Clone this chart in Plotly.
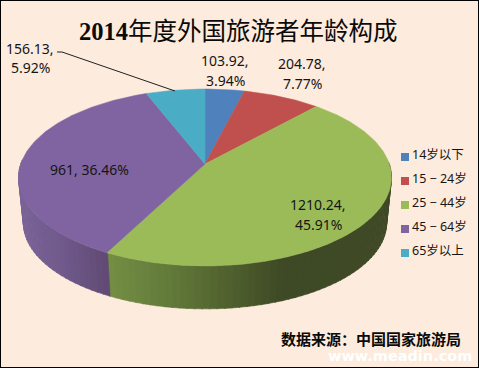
import math
import plotly.graph_objects as go

categories = ["14岁以下", "15 − 24岁", "25 − 44岁", "45 − 64岁", "65岁以上"]
values = [103.92, 204.78, 1210.24, 961, 156.13]
percent_labels = ["3.94%", "7.77%", "45.91%", "36.46%", "5.92%"]
top_colors = ["#4f81bd", "#c0504d", "#9bbb59", "#8064a2", "#4bacc6"]

BG = "#fdebdd"
CX, CY, A, B, K = 205.0, 164.0, 184.3, 86.4, 0.1525
CY2, A2, B2 = 210.0, 179.5, 83.8
total = sum(values)


def pt(theta, cy=CY, a=A, b=B):
    u, v = math.sin(theta), -math.cos(theta)
    d = 1 - K * v
    return CX + a * u / d, cy + b * v / d


def mix(stops, x):
    for (x0, c0), (x1, c1) in zip(stops, stops[1:]):
        if x <= x1:
            t = max(0, (x - x0) / (x1 - x0))
            return "rgb(%d,%d,%d)" % tuple(c0[i] + (c1[i] - c0[i]) * t for i in range(3))
    return "rgb(%d,%d,%d)" % stops[-1][1]


purple_side = [(18, (122, 100, 152)), (60, (112, 90, 140)), (107, (96, 74, 116))]
green_side = [(107, (116, 143, 68)), (170, (98, 122, 58)), (230, (80, 96, 46)),
              (285, (62, 73, 38)), (391, (64, 73, 38))]

fig = go.Figure()

# slice boundaries derived from the values
bounds = [0.0]
for val in values:
    bounds.append(bounds[-1] + val / total * 2 * math.pi)

# side wall: purple and green are the two slices facing the viewer
STEPS = 90
for i in range(STEPS):
    t0 = math.pi * 0.5 + (i / STEPS) * math.pi * 1.02 - 0.02
    t1 = math.pi * 0.5 + ((i + 1.15) / STEPS) * math.pi * 1.02 - 0.02
    x0, y0 = pt(t0)
    x1, y1 = pt(t1)
    x2, y2 = pt(t1, CY2, A2, B2)
    x3, y3 = pt(t0, CY2, A2, B2)
    tm = (t0 + t1) / 2
    xm = (x0 + x1) / 2
    col = mix(green_side, xm) if tm < bounds[3] else mix(purple_side, xm)
    fig.add_trace(go.Scatter(x=[x0, x1, x2, x3, x0], y=[y0, y1, y2, y3, y0], mode="lines",
                             fill="toself", fillcolor=col, line=dict(width=0.6, color=col),
                             hoverinfo="skip", showlegend=False))

# top faces
for i, name in enumerate(categories):
    n = max(4, int((bounds[i + 1] - bounds[i]) * 60))
    pts = [pt(bounds[i] + (bounds[i + 1] - bounds[i]) * j / n) for j in range(n + 1)]
    xs = [CX] + [p[0] for p in pts] + [CX]
    ys = [CY] + [p[1] for p in pts] + [CY]
    fig.add_trace(go.Scatter(x=xs, y=ys, mode="lines", fill="toself", fillcolor=top_colors[i],
                             line=dict(width=0.5, color=top_colors[i]), name=name, showlegend=False))

# legend built as markers and labels
legend_y = [154, 178, 202, 226, 250]
fig.add_trace(go.Scatter(x=[405] * 5, y=[y + 3 for y in legend_y], mode="markers",
                         marker=dict(symbol="square", size=8, color=top_colors),
                         hoverinfo="skip", showlegend=False))

# leader line of the 65+ label
fig.add_trace(go.Scatter(x=[57, 62, 175], y=[52, 52, 91], mode="lines",
                         line=dict(color="#202020", width=1), hoverinfo="skip", showlegend=False))

LABEL_FONT = "Noto Sans, Noto Sans CJK SC, sans-serif"


def text(x, y, s, size=14, color="#151515", family=LABEL_FONT, anchor="center"):
    fig.add_annotation(x=x, y=y, text=s, showarrow=False, xref="x", yref="y", xanchor=anchor,
                       yanchor="middle", font=dict(size=size, color=color, family=family))


def fmt(v):
    return f"{v:g}"


text(225, 60, fmt(values[0]) + ",")
text(225, 80, percent_labels[0])
text(302, 63, fmt(values[1]) + ",")
text(302, 83, percent_labels[1])
text(318, 204, fmt(values[2]) + ",")
text(318, 224, percent_labels[2])
text(89, 169, fmt(values[3]) + ", " + percent_labels[3])
text(30, 48, fmt(values[4]) + ",")
text(30, 67, percent_labels[4])

for y, name in zip(legend_y, categories):
    text(410, y, name, size=12.5, anchor="left")

text(238.5, 31, "<b>2014</b>年度外国旅游者年龄构成", size=24.5, color="#0a0a0a",
     family="Liberation Serif, Noto Sans CJK SC, serif")
text(370.5, 338, "<b>数据来源：中国国家旅游局</b>", size=15, color="#0a0a0a",
     family="Noto Sans CJK SC, sans-serif")
text(400, 356, "<b>www.meadin.com</b>", size=14.5, color="#ffffff", family="DejaVu Sans, sans-serif")

fig.update_layout(
    width=479, height=368, margin=dict(l=0, r=0, t=0, b=0),
    paper_bgcolor=BG, plot_bgcolor=BG, showlegend=False,
    xaxis=dict(range=[0, 479], visible=False, fixedrange=True),
    yaxis=dict(range=[368, 0], visible=False, fixedrange=True),
    shapes=[dict(type="rect", xref="paper", yref="paper", x0=0, y0=0, x1=1, y1=1,
                 line=dict(color="#000000", width=2), layer="above")],
)
fig.write_html("out.html", config={"displayModeBar": False},
               post_script="document.body.style.margin='0';document.documentElement.style.overflow='hidden';")
